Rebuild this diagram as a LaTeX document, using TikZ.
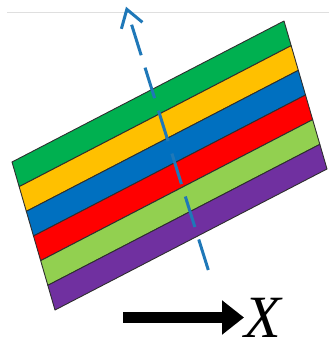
\documentclass[tikz,border=0pt]{standalone}
\usepackage{fontspec}
\setmainfont{Liberation Serif}
\usetikzlibrary{arrows.meta, positioning}
\definecolor{layerGreen}{HTML}{00B050}
\definecolor{layerYellow}{HTML}{FFC000}
\definecolor{layerBlue}{HTML}{0070C0}
\definecolor{layerRed}{HTML}{FF0000}
\definecolor{layerLime}{HTML}{92D050}
\definecolor{layerPurple}{HTML}{7030A0}
\definecolor{axisBlue}{HTML}{1F78B8}
\definecolor{edgeGrey}{HTML}{2E2E2E}

\begin{document}
\begin{tikzpicture}[
    x=1pt, y=-1pt,
    layer/.style={draw=edgeGrey, line width=0.9pt, line join=round},
    normal/.style={draw=axisBlue, line width=3pt, dash pattern=on 32pt off 13pt,
        -{Straight Barb[length=17pt, width=22pt, line width=3pt]}},
    direction/.style={line width=11.5pt, -{Triangle[length=22pt, width=33pt]}}
]
    \useasboundingbox (0,0) rectangle (329,342);

    % Thin rule at the top
    \draw[gray!25, line width=0.8pt] (7,12.7) -- (329,12.7);

    % Layers (top to bottom)
    \path[layer, fill=layerGreen]  (12,162) -- (284,21) -- (291.17,45.67) -- (19.17,186.67) -- cycle;
    \path[layer, fill=layerYellow] (19.17,186.67) -- (291.17,45.67) -- (298.33,70.33) -- (26.33,211.33) -- cycle;
    \path[layer, fill=layerBlue]   (26.33,211.33) -- (298.33,70.33) -- (305.5,95) -- (33.5,236) -- cycle;
    \path[layer, fill=layerRed]    (33.5,236) -- (305.5,95) -- (312.67,119.67) -- (40.67,260.67) -- cycle;
    \path[layer, fill=layerLime]   (40.67,260.67) -- (312.67,119.67) -- (319.83,144.33) -- (47.83,285.33) -- cycle;
    \path[layer, fill=layerPurple] (47.83,285.33) -- (319.83,144.33) -- (327,169) -- (55,310) -- cycle;

    % Normal direction (dashed)
    \coordinate (N0) at (208.3,270);
    \coordinate (N1) at (126,6.7);
    \draw[normal] (N0) -- (N1);

    % Scan direction
    \coordinate (S0) at (123,317.5);
    \node[font=\fontsize{60}{60}\selectfont\itshape, inner sep=0pt, anchor=base west] (X) at (244,337.5) {X};
    \draw[direction] (S0) -- (S0 -| X.west);
\end{tikzpicture}
\end{document}
